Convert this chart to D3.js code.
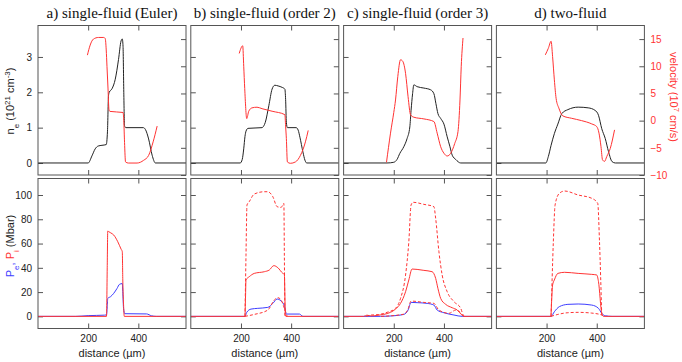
<!DOCTYPE html>
<html>
<head>
<meta charset="utf-8">
<script src="https://cdn.jsdelivr.net/npm/d3@7"></script>
<style>
  body { margin: 0; background: #fff; }
  text { font-family: "Liberation Sans", Arial, sans-serif; }
</style>
</head>
<body>
<div id="chart"></div>
<script>
// panel titles and ticks
const titles = ["a) single-fluid (Euler)", "b) single-fluid (order 2)", "c) single-fluid (order 3)", "d) two-fluid"];
const xTicks = [200, 400];
const neTicks = [0, 1, 2, 3];
const velTicks = [-10, -5, 0, 5, 10, 15];
const pTicks = [0, 20, 40, 60, 80, 100];

// electron density ne (10^21 cm^-3) vs distance (um)
const neA = [[0,0],[200,0],[215,0.2],[228,0.4],[240,0.48],[255,0.5],[272,0.52],[277,0.9],[281,1.9],[284,2.0],[295,2.1],[308,2.37],[321,2.93],[331,3.45],[336,3.51],[339,3.3],[342,2.0],[345,1.05],[350,1.0],[420,1.0],[428,0.95],[441,0.68],[455,0.22],[468,0],[590,0]];
const neB = [[0,0],[197,0],[205,0.1],[211,0.4],[216,0.75],[220,0.9],[228,0.98],[284,1.0],[291,1.05],[297,1.15],[311,1.62],[324,2.09],[335,2.2],[348,2.18],[364,2.14],[375,2.09],[378,1.8],[381,1.15],[385,1.0],[420,1.0],[428,0.93],[435,0.73],[447,0.31],[455,0.08],[462,0],[590,0]];
const neC = [[0,0],[173,0],[200,0.02],[213,0.1],[224,0.27],[240,0.46],[253,0.69],[264,1.02],[269,1.49],[275,1.96],[280,2.21],[293,2.16],[320,2.12],[347,2.07],[360,1.96],[368,1.68],[376,1.4],[387,1.26],[400,1.1],[413,0.74],[424,0.46],[433,0.22],[447,0.1],[467,0],[590,0]];
const neD = [[0,0],[197,0],[207,0.18],[218,0.5],[231,0.83],[245,1.1],[261,1.4],[285,1.51],[326,1.58],[366,1.56],[393,1.49],[407,1.35],[420,0.97],[434,0.69],[447,0.32],[461,0.04],[474,0],[590,0]];

// velocity (10^7 cm/s)
const velA = [[197,12.05],[208,13.9],[221,15.0],[241,15.3],[262,15.3],[268,15.1],[272,13],[275,10],[279,6],[283,2],[287,1.7],[339,1.5],[342,0],[345,-4],[349,-7.6],[360,-7.8],[395,-7.8],[421,-7.3],[441,-6.4],[459,-3.9],[475,-1.0]];
const velB = [[193,12.36],[207,13.77],[211,10],[215,5.9],[223,0.38],[231,1.73],[244,2.35],[264,2.47],[284,2.2],[324,1.73],[375,1.1],[378,-1],[381,-3.3],[385,-7.6],[397,-7.85],[417,-7.6],[437,-6.4],[457,-3.9],[468,-1.8]];
const velC = [[171,-7.67],[187,-2.3],[200,1.5],[207,3.8],[216,8.1],[227,11.2],[236,10.9],[247,8.7],[257,4.4],[267,1.06],[280,0.63],[320,0.32],[360,-0.17],[373,-2.3],[387,-4.8],[400,-6.0],[413,-6.5],[427,-6.0],[443,-4.2],[456,-2.0],[464,3.8],[469,10.0],[476,15.2]];
const velD = [[195,12.1],[207,13.3],[218,14.6],[224,11.8],[231,7.5],[238,4.1],[249,2.3],[265,0.87],[299,0.44],[339,0.01],[380,-0.6],[400,-1.1],[409,-2.3],[417,-4.8],[423,-7.2],[431,-7.5],[440,-6.6],[454,-5.1],[471,-1.7]];

// pressures (Mbar): Pe blue, Pi red, dashed red comparison curves
const peA = [[0,0],[150,0],[200,0.6],[265,1.0],[273,1.2],[276,8],[278,14.8],[289,16.2],[302,19],[315,23],[325,26.4],[336,27],[339,15],[341,6.6],[346,2.2],[433,2],[452,0.5],[472,0],[590,0]];
const piA = [[0,0],[273,0],[276,40],[278,70.3],[282,69.8],[290,68.8],[302,67],[318,61.5],[331,55.5],[336,53.3],[338,30],[341,10],[344,0],[590,0]];
const peB = [[0,0],[216,0],[223,3.3],[240,6.0],[267,6.6],[307,7.4],[327,10.7],[344,14.3],[360,12.6],[373,8.8],[377,5],[380,1.9],[433,1.9],[447,0],[590,0]];
const piB = [[0,0],[216,0],[218,15],[220,30],[233,32.7],[253,35.4],[293,36.8],[313,38.2],[331,41.8],[347,40.1],[367,35.4],[373,34.6],[375,18],[377,1],[379,0],[590,0]];
const hiB = [[216,0],[220,50],[224,91.8],[233,94.5],[253,100.8],[293,102.7],[307,102.7],[327,98.6],[344,90.4],[360,89.8],[371,93.1],[373,50],[375,0]];
const loB = [[216,0],[253,1.6],[307,5.2],[333,13.5],[347,15.4],[360,13.5],[373,6.6],[384,0]];
const peC = [[0,0],[147,0],[200,0.5],[240,1.6],[257,5.2],[269,11.5],[293,11.3],[333,10.7],[360,9.3],[373,5.2],[400,3.0],[440,1.1],[473,0],[590,0]];
const piC = [[0,0],[80,0],[93,1],[110,0.3],[133,0.8],[187,3.3],[207,6],[227,10.7],[247,20.3],[260,30],[273,39],[293,38.7],[320,37.9],[353,36.8],[367,31.3],[376,23.1],[387,14.8],[407,9.9],[433,7.1],[453,5.2],[469,1.6],[480,0],[590,0]];
const hiC = [[90,0],[107,1],[140,1.5],[173,3.3],[207,6.6],[227,14.8],[247,34],[260,61.5],[269,91.8],[277,94],[320,92.3],[360,90.4],[367,80.8],[380,53.3],[393,34],[413,20.3],[440,12.1],[467,6.6],[477,1],[482,0]];
const loC = [[150,0],[240,1.8],[257,6],[269,12.6],[320,11.5],[360,10.7],[380,5.2],[420,2.5],[447,5.2],[463,3.8],[477,0]];
const peD = [[0,0],[218,0],[231,3.8],[251,8],[285,9.9],[326,10.2],[380,9.3],[407,6.6],[420,2.5],[434,0.5],[461,0],[590,0]];
const piD = [[0,0],[217,0],[220,12],[224,25.8],[231,30],[245,35.4],[272,36.3],[326,35.4],[380,34.6],[400,34.1],[407,28.6],[420,2.5],[427,0],[590,0]];
const hiD = [[218,0],[227,61.5],[234,91.8],[251,101.4],[272,103.3],[326,100],[380,97.3],[404,93.1],[411,61.5],[420,0]];
const loD = [[218,0],[245,1.6],[285,3.0],[326,3.3],[380,2.7],[420,1.1],[427,0]];

const panels = [
  { ne: neA, vel: velA, pe: peA, pi: piA, hi: null, lo: null },
  { ne: neB, vel: velB, pe: peB, pi: piB, hi: hiB, lo: loB },
  { ne: neC, vel: velC, pe: peC, pi: piC, hi: hiC, lo: loC },
  { ne: neD, vel: velD, pe: peD, pi: piD, hi: hiD, lo: loD }
];

const red = "#ff3333", blue = "#3d3dff", dark = "#222", frame = "#555";
const left0 = 38, step = 152.8, panelW = 148;

const yNe = d3.scaleLinear().domain([-0.34, 3.89]).range([175, 25.5]);
const yVel = d3.scaleLinear().domain([-10, 17.5]).range([175, 25.5]);
const yP = d3.scaleLinear().domain([-10, 113.6]).range([328.5, 178.5]);

const svg = d3.select("#chart").append("svg")
  .attr("width", 682).attr("height", 362);

const defs = svg.append("defs");

panels.forEach((p, i) => {
  const left = left0 + i * step;
  const x = d3.scaleLinear().domain([0, 590]).range([left, left + panelW]);

  // title
  svg.append("text")
    .attr("x", left + panelW / 2).attr("y", 18)
    .attr("text-anchor", "middle")
    .style("font-family", "'Liberation Serif', 'Times New Roman', serif")
    .style("font-size", "15px")
    .attr("fill", "#111")
    .text(titles[i]);

  [[yNe, 25.5, 175, "t"], [yP, 178.5, 328.5, "b"]].forEach(([yS, y0, y1, key]) => {
    defs.append("clipPath").attr("id", `clip${key}${i}`)
      .append("rect").attr("x", left).attr("y", y0).attr("width", panelW).attr("height", y1 - y0);

    // inward ticks on top and bottom edges
    const topAx = svg.append("g").attr("transform", `translate(0,${y0})`)
      .call(d3.axisTop(x).tickValues(xTicks).tickSize(-5).tickSizeOuter(0).tickFormat(""));
    const botAx = svg.append("g").attr("transform", `translate(0,${y1})`)
      .call(d3.axisBottom(x).tickValues(xTicks).tickSize(-5).tickSizeOuter(0).tickPadding(6)
        .tickFormat(key === "b" ? d3.format("d") : ""));
    [topAx, botAx].forEach(g => {
      g.select(".domain").remove();
      g.selectAll("line").attr("stroke", frame);
      g.selectAll("text").attr("fill", "#222").style("font-size", "10px");
    });
  });

  // left / right ticks, top row
  const lt = svg.append("g").attr("transform", `translate(${left},0)`)
    .call(d3.axisLeft(yNe).tickValues(neTicks).tickSize(-5).tickPadding(6)
      .tickFormat(i === 0 ? d3.format("d") : ""));
  const rt = svg.append("g").attr("transform", `translate(${left + panelW},0)`)
    .call(d3.axisRight(yVel).tickValues(velTicks).tickSize(-5).tickPadding(6)
      .tickFormat(i === 3 ? d3.format("d") : ""));
  // left / right ticks, bottom row
  const lb = svg.append("g").attr("transform", `translate(${left},0)`)
    .call(d3.axisLeft(yP).tickValues(pTicks).tickSize(-5).tickPadding(6)
      .tickFormat(i === 0 ? d3.format("d") : ""));
  const rb = svg.append("g").attr("transform", `translate(${left + panelW},0)`)
    .call(d3.axisRight(yP).tickValues(pTicks).tickSize(-5).tickFormat(""));
  [lt, rt, lb, rb].forEach(g => {
    g.select(".domain").remove();
    g.selectAll("line").attr("stroke", frame);
    g.selectAll("text").attr("fill", "#222").style("font-size", "10px");
  });
  rt.selectAll("text").attr("fill", red);

  // curves
  const lineNe = d3.line().x(d => x(d[0])).y(d => yNe(d[1])).curve(d3.curveMonotoneX);
  const lineVel = d3.line().x(d => x(d[0])).y(d => yVel(d[1])).curve(d3.curveMonotoneX);
  const lineP = d3.line().x(d => x(d[0])).y(d => yP(d[1])).curve(d3.curveMonotoneX);

  const gt = svg.append("g").attr("clip-path", `url(#clipt${i})`).attr("fill", "none").attr("stroke-width", 1);
  gt.append("path").attr("d", lineNe(p.ne)).attr("stroke", dark);
  gt.append("path").attr("d", lineVel(p.vel)).attr("stroke", red);

  const gb = svg.append("g").attr("clip-path", `url(#clipb${i})`).attr("fill", "none").attr("stroke-width", 1);
  gb.append("path").attr("d", lineP(p.pe)).attr("stroke", blue);
  gb.append("path").attr("d", lineP(p.pi)).attr("stroke", red);
  [p.hi, p.lo].filter(Boolean).forEach(s => {
    gb.append("path").attr("d", lineP(s)).attr("stroke", red).attr("stroke-dasharray", "3,2");
  });

  // frames
  svg.append("rect").attr("x", left).attr("y", 25.5).attr("width", panelW).attr("height", 149.5)
    .attr("fill", "none").attr("stroke", frame);
  svg.append("rect").attr("x", left).attr("y", 178.5).attr("width", panelW).attr("height", 150)
    .attr("fill", "none").attr("stroke", frame);

  // x label
  svg.append("text")
    .attr("x", left + panelW / 2).attr("y", 357)
    .attr("text-anchor", "middle")
    .style("font-size", "11px").attr("fill", "#222")
    .text("distance (\u00b5m)");
});

// y labels
const neLab = svg.append("text")
  .attr("transform", "translate(14,101) rotate(-90)")
  .attr("text-anchor", "middle").style("font-size", "11px").attr("fill", "#222");
neLab.append("tspan").text("n");
neLab.append("tspan").attr("baseline-shift", "sub").style("font-size", "8px").text("e");
neLab.append("tspan").text(" (10");
neLab.append("tspan").attr("baseline-shift", "super").style("font-size", "8px").text("21");
neLab.append("tspan").text(" cm");
neLab.append("tspan").attr("baseline-shift", "super").style("font-size", "8px").text("-3");
neLab.append("tspan").text(")");

const velLab = svg.append("text")
  .attr("transform", "translate(670,97) rotate(90)")
  .attr("text-anchor", "middle").style("font-size", "11px").attr("fill", red);
velLab.append("tspan").text("velocity (10");
velLab.append("tspan").attr("baseline-shift", "super").style("font-size", "8px").text("7");
velLab.append("tspan").text(" cm/s)");

const pLab = svg.append("text")
  .attr("transform", "translate(14,246) rotate(-90)")
  .attr("text-anchor", "middle").style("font-size", "11px").attr("fill", "#222");
pLab.append("tspan").attr("fill", blue).text("P");
pLab.append("tspan").attr("fill", blue).attr("baseline-shift", "sub").style("font-size", "8px").text("e");
pLab.append("tspan").attr("fill", blue).text(", ");
pLab.append("tspan").attr("fill", red).text("P");
pLab.append("tspan").attr("fill", red).attr("baseline-shift", "sub").style("font-size", "8px").text("i");
pLab.append("tspan").text(" (Mbar)");
</script>
</body>
</html>
